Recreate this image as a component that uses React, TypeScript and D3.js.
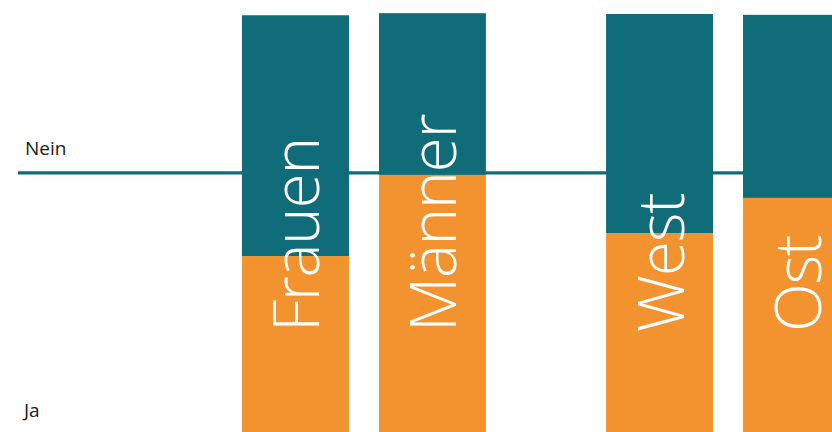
import React from "react";
import * as d3 from "d3";

const groups = ["Geschlecht", "Region"];
const categories = [
  { group: "Geschlecht", name: "Frauen" },
  { group: "Geschlecht", name: "Männer" },
  { group: "Region", name: "West" },
  { group: "Region", name: "Ost" },
];
const jaValues = [42.1, 61.5, 47.6, 56.0];
const neinValues = [57.6, 38.7, 52.4, 43.8];
const referenceValue = 62.0;
const seriesLabels = ["Nein", "Ja"];

const W = 832;
const H = 432;
const TEAL = "#116c79";
const ORANGE = "#f2932f";

export default function App() {
  const outer = d3.scaleBand<string>().domain(groups).range([242, 850]).paddingInner(0.33).paddingOuter(0);
  const inner = d3
    .scaleBand<number>()
    .domain([0, 1])
    .range([0, outer.bandwidth()])
    .paddingInner(0.219)
    .paddingOuter(0);
  const y = d3.scaleLinear().domain([0, 100]).range([432, 14]);

  const bars = categories.map((c, i) => {
    const idx = categories.filter((d) => d.group === c.group).indexOf(c);
    const x = (outer(c.group) ?? 0) + (inner(idx) ?? 0);
    return { ...c, x, ja: jaValues[i], nein: neinValues[i] };
  });
  const bw = inner.bandwidth();
  const font = "'Open Sans', 'Noto Sans', sans-serif";

  return (
    <svg
      width={W}
      height={H}
      style={{ position: "absolute", left: 0, top: 0, display: "block" }}
    >
      <rect width={W} height={H} fill="#fff" />
      <line
        x1={18}
        x2={bars[3].x + 2}
        y1={y(referenceValue)}
        y2={y(referenceValue)}
        stroke={TEAL}
        strokeWidth={3.2}
      />
      {bars.map((b) => (
        <g key={b.name}>
          <rect x={b.x} width={bw} y={y(b.ja + b.nein)} height={y(b.ja) - y(b.ja + b.nein)} fill={TEAL} />
          <rect x={b.x} width={bw} y={y(b.ja)} height={y(0) - y(b.ja)} fill={ORANGE} />
          <text
            transform={`translate(${b.x + bw / 2 + 24},332) rotate(-90)`}
            fill="#fff"
            fontFamily={font}
            fontWeight={300}
            fontSize={64}
            letterSpacing={-1.3}
            textAnchor="start"
          >
            {b.name}
          </text>
        </g>
      ))}
      <text x={25} y={155} fontFamily={font} fontSize={19} fill="#1a1a1a">
        {seriesLabels[0]}
      </text>
      <text x={24} y={417} fontFamily={font} fontSize={19} fill="#1a1a1a">
        {seriesLabels[1]}
      </text>
    </svg>
  );
}
